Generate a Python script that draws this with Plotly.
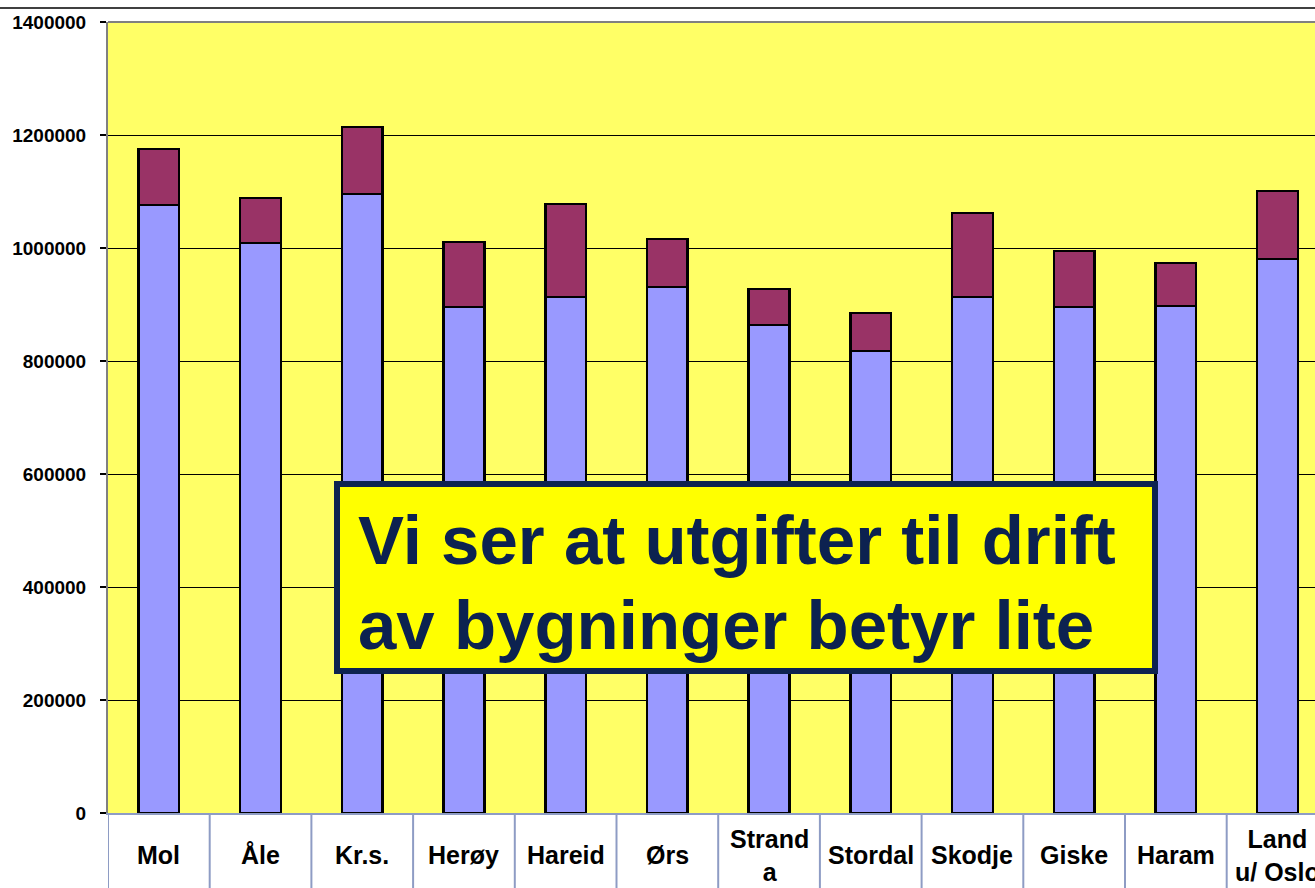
import plotly.graph_objects as go

categories = ["Mol", "Åle", "Kr.s.", "Herøy", "Hareid", "Ørs", "Strand<br>a",
              "Stordal", "Skodje", "Giske", "Haram", "Land<br>u/ Oslo"]
base_values = [1076000, 1009000, 1095600, 895600, 913300, 931000, 863800,
               817700, 913300, 895600, 897400, 980600]
total_values = [1175000, 1088600, 1214000, 1010700, 1078000, 1016000, 927500,
                885000, 1062000, 994700, 973500, 1101000]
building_values = [t - b for t, b in zip(total_values, base_values)]
ytick_values = [0, 200000, 400000, 600000, 800000, 1000000, 1200000, 1400000]
ytick_labels = ["<b>%d</b>" % v for v in ytick_values]
box_lines = ["Vi ser at utgifter til drift", "av bygninger betyr lite"]

W, H = 1315, 888
L, T, B = 108, 22, 75
PW, PH = W - L, H - T - B
FONT = "Liberation Sans, Arial"

def px(x):
    return (x - L) / PW

def py(y):
    return (H - B - y) / PH

xs = list(range(len(categories)))

fig = go.Figure()
fig.add_trace(go.Bar(x=xs, y=base_values, width=0.4,
                     marker=dict(color="#9999FF", line=dict(color="black", width=2.5))))
fig.add_trace(go.Bar(x=xs, y=building_values, width=0.4,
                     marker=dict(color="#993366", line=dict(color="black", width=2.5))))

shapes = []
for i in range(len(categories) + 1):
    shapes.append(dict(type="line", xref="x", yref="paper", x0=i - 0.5, x1=i - 0.5,
                       y0=0, y1=-B / PH, line=dict(color="#8E9CC4", width=2), layer="above"))
shapes.append(dict(type="line", xref="paper", yref="paper", x0=-L / PW, x1=1,
                   y0=py(8), y1=py(8), line=dict(color="black", width=1.5)))
shapes.append(dict(type="line", xref="paper", yref="paper", x0=0, x1=1,
                   y0=1, y1=1, line=dict(color="#808080", width=2)))
shapes.append(dict(type="rect", xref="paper", yref="paper",
                   x0=px(337), x1=px(1155), y0=py(671), y1=py(484),
                   fillcolor="#FFFF00", line=dict(color="#0E2350", width=6), layer="above"))

annotations = []
for i, c in enumerate(categories):
    annotations.append(dict(x=i, y=-42 / PH, xref="x", yref="paper", text="<b>%s</b>" % c,
                            showarrow=False, yanchor="middle", xanchor="center",
                            font=dict(family=FONT, size=25, color="black")))
for yy, line in zip([540, 625], box_lines):
    annotations.append(dict(x=px(356), y=py(yy), xref="paper", yref="paper",
                            text="<b>%s</b>" % line, showarrow=False,
                            xanchor="left", yanchor="middle",
                            font=dict(family=FONT, size=69, color="#0C2250")))

fig.update_layout(
    width=W, height=H, barmode="stack", showlegend=False,
    margin=dict(l=L, r=0, t=T, b=B, pad=0),
    paper_bgcolor="white", plot_bgcolor="#FFFF66",
    shapes=shapes, annotations=annotations,
    xaxis=dict(range=[-0.5, -0.5 + PW / 101.7], showticklabels=False, showgrid=False,
               zeroline=False, showline=True, linecolor="#8E9CC4", linewidth=2,
               ticks="", fixedrange=True),
    yaxis=dict(range=[0, 1400000], tickvals=ytick_values, ticktext=ytick_labels,
               showgrid=True, gridcolor="black", gridwidth=1, zeroline=False,
               showline=True, linecolor="#808080", linewidth=2,
               ticks="outside", ticklen=6, tickcolor="black", tickwidth=1.5,
               tickfont=dict(family=FONT, size=19, color="black"),
               ticklabelstandoff=10),
)

fig.write_html("out.html", config={"displayModeBar": False},
               post_script="document.body.style.margin='0';document.body.style.overflow='hidden';")
